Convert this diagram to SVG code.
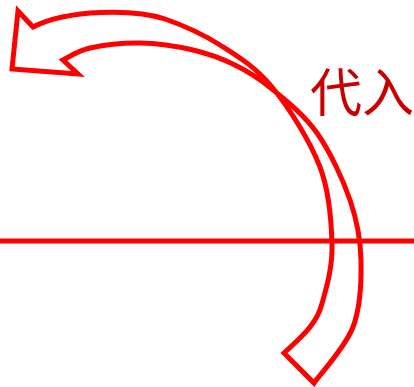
<svg xmlns="http://www.w3.org/2000/svg" width="414" height="387" viewBox="0 0 414 387">
  <style>
    .red { stroke: #ff0000; stroke-width: 5; fill: none; stroke-linejoin: miter; }
    .label { font-family: "Noto Sans CJK SC", "Noto Sans CJK JP", sans-serif; font-size: 52px; fill: #c80000; }
  </style>
  <rect width="414" height="387" fill="#ffffff"/>
  <g id="axis">
    <line class="red" x1="0" y1="241" x2="414" y2="241" stroke-width="5.5"/>
  </g>
  <g id="curved-arrow">
    <path class="red" d="M 33,27 L 18,11 L 12,69 L 78,74 L 63,60
      C 67.5,58 77.2,50.8 90,48
      C 102.8,45.2 122.8,42.7 140,43
      C 157.2,43.3 177.2,46.3 193,50
      C 208.8,53.7 221.8,58.5 235,65
      C 248.2,71.5 258.3,77.7 272,89
      C 285.7,100.3 304,114.5 317,133
      C 330,151.5 342.7,178.8 350,200
      C 357.3,221.2 360.5,238.8 361,260
      C 361.5,281.2 360.8,306.5 353,327
      C 345.2,347.5 320.5,373.7 314,383
      L 284,353
      C 288.3,348.7 303.5,335.8 310,327
      C 316.5,318.2 319.3,313.7 323,300
      C 326.7,286.3 332.5,267.2 332,245
      C 331.5,222.8 330,193.3 320,167
      C 310,140.7 288.7,107.3 272,87
      C 255.3,66.7 237.8,56.3 220,45
      C 202.2,33.7 181.7,24.8 165,19
      C 135,9 68,9 33,27 Z"/>
  </g>
  <g id="label">
    <text class="label" x="310" y="112">代入</text>
  </g>
</svg>
